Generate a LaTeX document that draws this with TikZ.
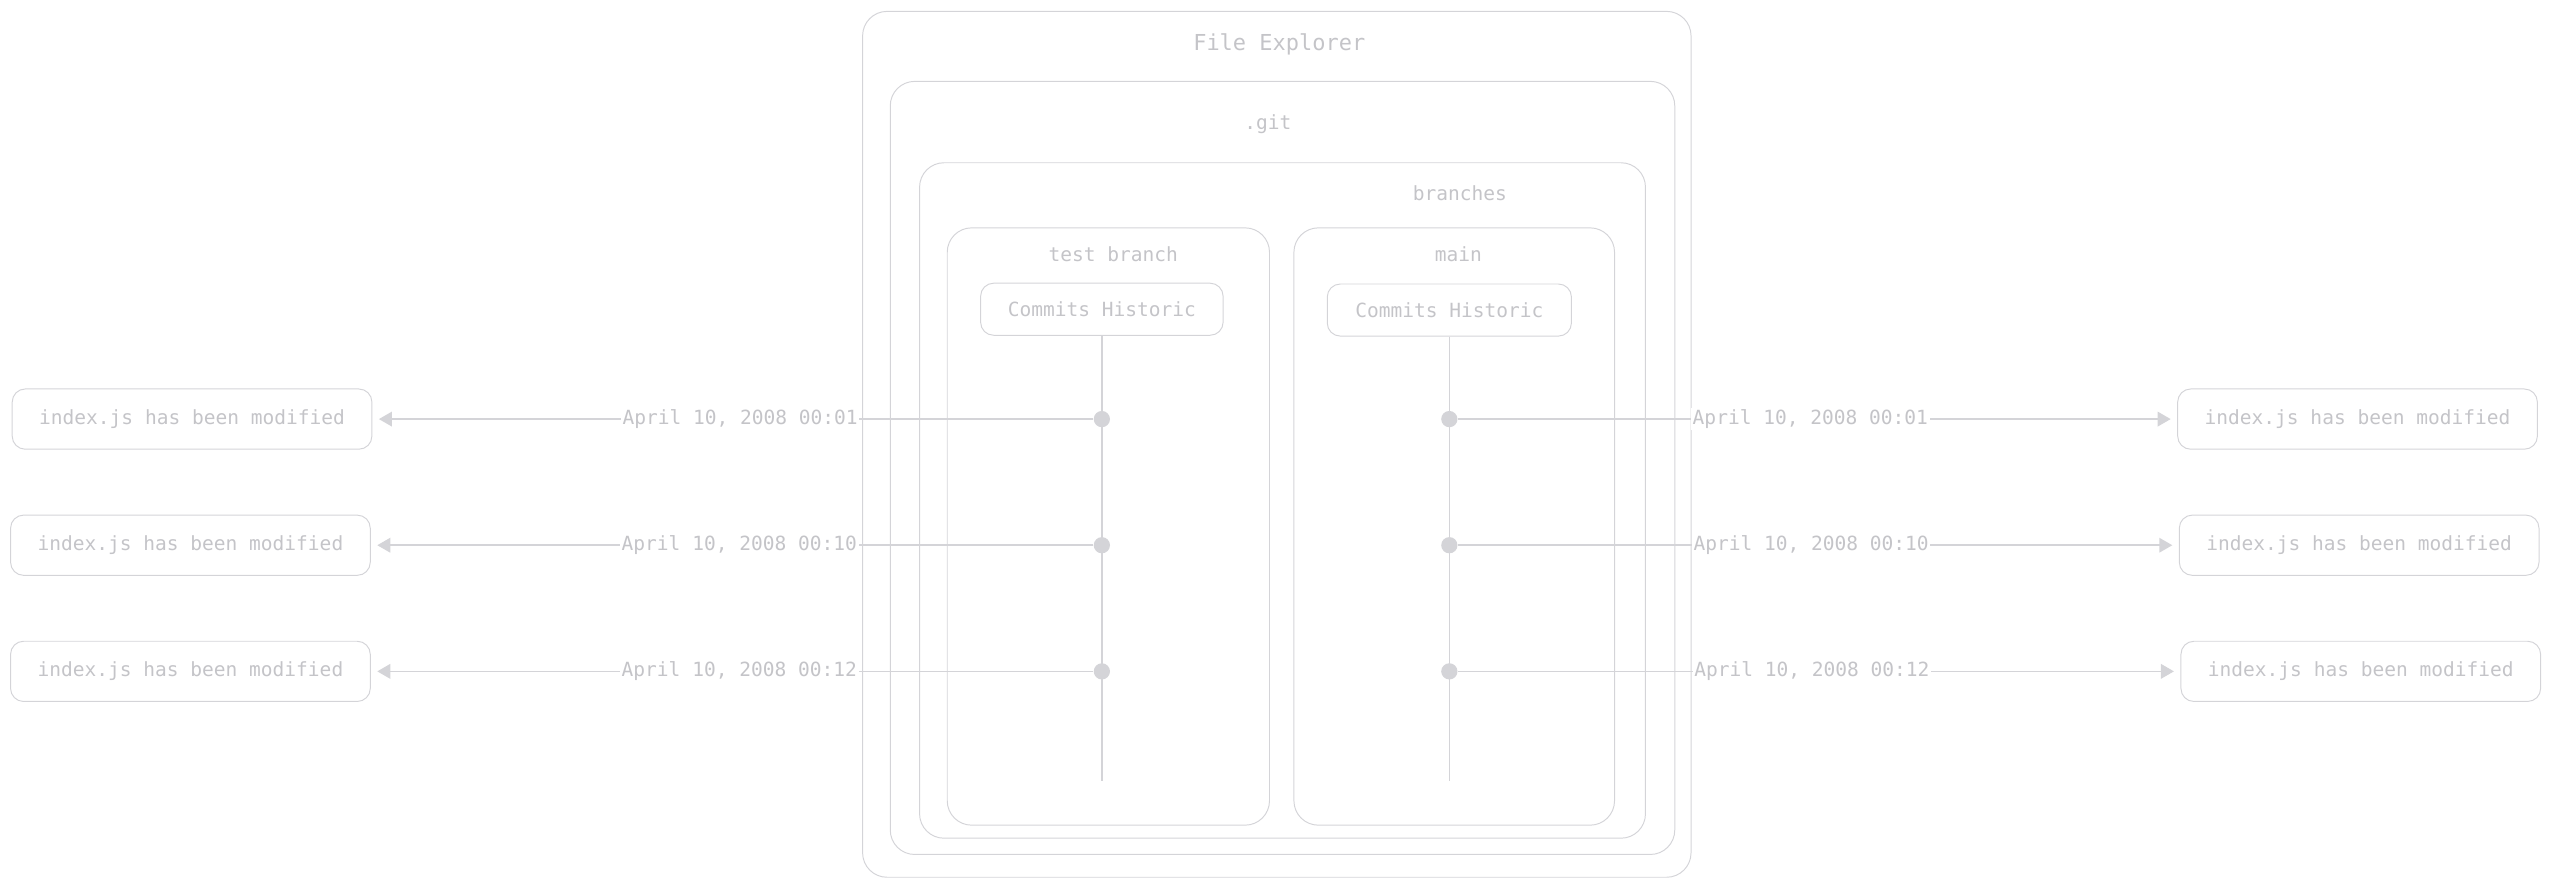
\documentclass[tikz,border=0pt]{standalone}
\usepackage{fontspec}
\setmonofont{DejaVu Sans Mono}
\usepackage{xcolor}
\usetikzlibrary{arrows.meta, positioning}

\definecolor{linegray}{HTML}{D4D4D8}
\definecolor{textgray}{HTML}{C4C4C8}

\begin{document}
\begin{tikzpicture}[x=1pt, y=-1pt,
		frame/.style={draw=linegray, line width=0.6pt, rounded corners=15pt, inner sep=0pt},
		caption/.style={text=textgray, font=\ttfamily\fontsize{12}{14}\selectfont},
		histbox/.style={frame, rounded corners=8pt, caption, minimum height=32pt},
		event/.style={frame, rounded corners=8pt, caption, minimum width=221pt, minimum height=37pt},
		commit/.style={circle, fill=linegray, inner sep=0pt, minimum size=10pt},
		timeline/.style={draw=linegray, line width=0.8pt},
		link/.style={draw=linegray, line width=0.9pt, -{Triangle[length=8pt,width=9pt]}, shorten >=4pt},
		stamp/.style={caption, fill=white, inner sep=1pt, pos=0.49}
	]

	\useasboundingbox (0,0) rectangle (1568,545);

	% containers
	\draw
		(784.5,273) node[frame, minimum width=509pt, minimum height=532pt] (explorer) {}
		(788,287.5) node[frame, minimum width=482pt, minimum height=475pt] (git) {}
		(788,307.5) node[frame, minimum width=446pt, minimum height=415pt] (branches) {}
		(681,323.5) node[frame, minimum width=198pt, minimum height=367pt] (testbranch) {}
		(893.5,323.5) node[frame, minimum width=197pt, minimum height=367pt] (mainbranch) {};

	\draw
		(786,27) node[caption, font=\ttfamily\fontsize{13.5}{16}\selectfont] (explorerlbl) {File Explorer}
		(779,76) node[caption] (gitlbl) {.git}
		(897,119) node[caption] (brancheslbl) {branches}
		(684,156) node[caption] (testlbl) {test branch}
		(896,156) node[caption] (mainlbl) {main};

	\draw
		(677,190) node[histbox, minimum width=149pt] (testhist) {Commits Historic}
		(890.5,190.5) node[histbox, minimum width=150pt] (mainhist) {Commits Historic};

	% commits
	\coordinate (testend) at (677,480);
	\coordinate (mainend) at (890.5,480);
	\draw[timeline] (testhist.south -| testend) -- (testend);
	\draw[timeline] (mainhist.south -| mainend) -- (mainend);

	\draw
		(677,257.5) node[commit] (test1) {}
		(677,335) node[commit] (test2) {}
		(677,412.5) node[commit] (test3) {}
		(890.5,257.5) node[commit] (main1) {}
		(890.5,335) node[commit] (main2) {}
		(890.5,412.5) node[commit] (main3) {};

	\draw
		(118,257.5) node[event] (testev1) {index.js has been modified}
		(117,335) node[event] (testev2) {index.js has been modified}
		(117,412.5) node[event] (testev3) {index.js has been modified}
		(1448.5,257.5) node[event] (mainev1) {index.js has been modified}
		(1449.5,335) node[event] (mainev2) {index.js has been modified}
		(1450.5,412.5) node[event] (mainev3) {index.js has been modified};

	\draw[link] (test1) -- node[stamp] {April 10, 2008 00:01} (testev1);
	\draw[link] (test2) -- node[stamp] {April 10, 2008 00:10} (testev2);
	\draw[link] (test3) -- node[stamp] {April 10, 2008 00:12} (testev3);

	\draw[link] (main1) -- node[stamp] {April 10, 2008 00:01} (mainev1);
	\draw[link] (main2) -- node[stamp] {April 10, 2008 00:10} (mainev2);
	\draw[link] (main3) -- node[stamp] {April 10, 2008 00:12} (mainev3);
\end{tikzpicture}
\end{document}
